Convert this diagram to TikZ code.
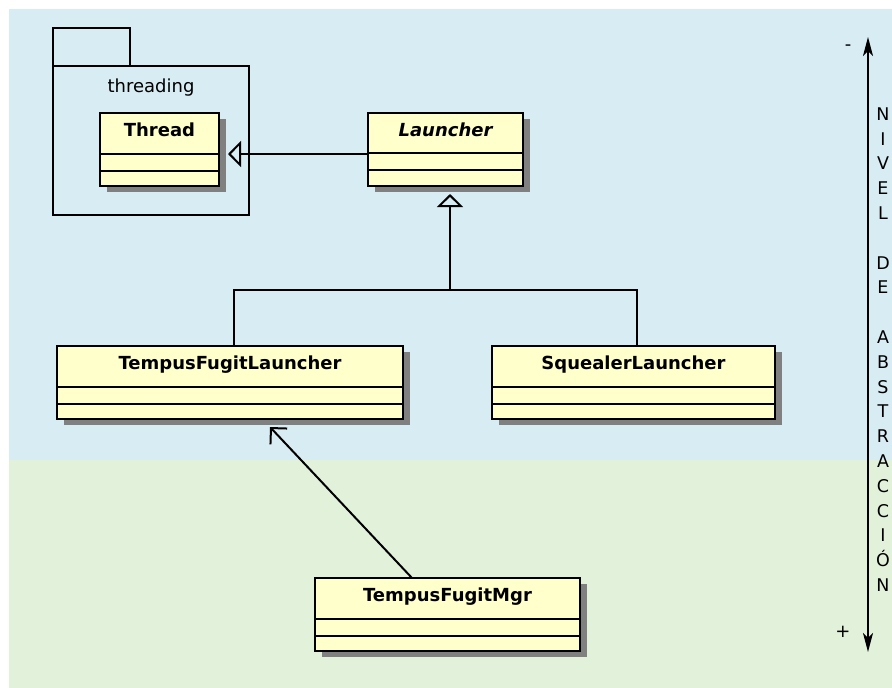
\documentclass[tikz,border=0pt]{standalone}
\usepackage{fontspec}
\setmainfont{DejaVu Sans}
\usetikzlibrary{arrows.meta}

\definecolor{upperband}{RGB}{215,236,243}
\definecolor{lowerband}{RGB}{226,242,218}
\definecolor{classfill}{RGB}{255,255,204}
\definecolor{shadowgray}{RGB}{128,128,128}

\tikzset{
  classbox/.style={rectangle, draw=black, fill=classfill, line width=2pt,
    inner sep=0pt, outer sep=0pt},
  classshadow/.style={fill=shadowgray},
  classname/.style={font=\fontsize{18}{22}\selectfont\bfseries, anchor=base, inner sep=0pt},
  divider/.style={line width=2pt},
  pkgbox/.style={rectangle, draw=black, line width=2pt, inner sep=0pt, outer sep=0pt},
  pkgname/.style={font=\fontsize{18}{22}\selectfont, anchor=base, inner sep=0pt},
  link/.style={line width=2pt},
  genarrow/.style={link, -{Triangle[open, length=13pt, width=26pt]}},
  deparrow/.style={link, -{Straight Barb[length=11.5pt, width=23pt]}},
  axisline/.style={line width=1.6pt,
    {Stealth[length=19pt, width=10pt, inset=5pt]}-{Stealth[length=19pt, width=10pt, inset=5pt]}},
  axismark/.style={font=\fontsize{18}{22}\selectfont, inner sep=0pt},
  axislabel/.style={font=\fontsize{17.5}{24.8}\selectfont, align=center, inner sep=0pt, anchor=base},
}

% UML class: name, x1, y1, x2, y2, first divider y, second divider y, title
\newcommand\umlclass[8]{%
  \fill[classshadow] (#2+7,#3+6) rectangle (#4+7,#5+6);
  \node[classbox, minimum width={#4-#2}, minimum height={#5-#3}]
    (#1) at ({(#2+#4)/2},{(#3+#5)/2}) {};
  \node[classname] (#1-name) at ({(#2+#4)/2},#3+23.5) {#8};
  \draw[divider] (#2,#6) -- (#4,#6) (#2,#7) -- (#4,#7);
}

\begin{document}
\begin{tikzpicture}[x=1pt, y=-1pt]
  \useasboundingbox (0,0) rectangle (892,688);
  \fill[white] (0,0) rectangle (892,688);

  % layer bands
  \fill[upperband] (9,9) rectangle (892,460);
  \fill[lowerband] (9,460) rectangle (892,688);

  % package threading
  \node[pkgbox, minimum width=196, minimum height=149] (pkg) at (151,140.5) {};
  \draw[line width=2pt] (pkg.north west) rectangle ++(77,-38);
  \node[pkgname] (pkg-name) at (151,92) {threading};

  % classes
  \umlclass{thread}{100}{113}{219}{186}{154}{171}{Thread}
  \umlclass{launcher}{368}{113}{523}{186}{153}{170}{\itshape Launcher}
  \umlclass{tfl}{57}{346}{403}{419}{387}{404}{TempusFugitLauncher}
  \umlclass{squealer}{492}{346}{775}{419}{387}{404}{SquealerLauncher}
  \umlclass{tfm}{315}{578}{580}{651}{619}{636}{TempusFugitMgr}

  % inheritance
  \draw[genarrow] ([yshift=-4.5pt]launcher.west) -- ([xshift=9pt,yshift=-4.5pt]thread.east);
  \coordinate (joint) at (450,290);
  \draw[link] ([xshift=4pt]tfl.north) |- (joint) -| ([xshift=3.5pt]squealer.north);
  \draw[genarrow] (joint) -- ([xshift=4.5pt,yshift=-8pt]launcher.south);

  % dependency
  \draw[deparrow] ([xshift=-35.5pt]tfm.north) -- ([xshift=40pt,yshift=-8pt]tfl.south);

  % abstraction axis
  \coordinate (axtop) at (868,37);
  \coordinate (axbot) at (868,652);
  \draw[axisline] (axtop) -- (axbot);
  \node[axismark] (minus) at (848,48) {-};
  \node[axismark] (plus) at (843,632) {+};
  % the base anchor of a multi-line node sits on its last line
  \node[axislabel] (nivel) at (883,591.5)
    {N\\I\\V\\E\\L\\~\\D\\E\\~\\A\\B\\S\\T\\R\\A\\C\\C\\I\\Ó\\N};
\end{tikzpicture}
\end{document}
